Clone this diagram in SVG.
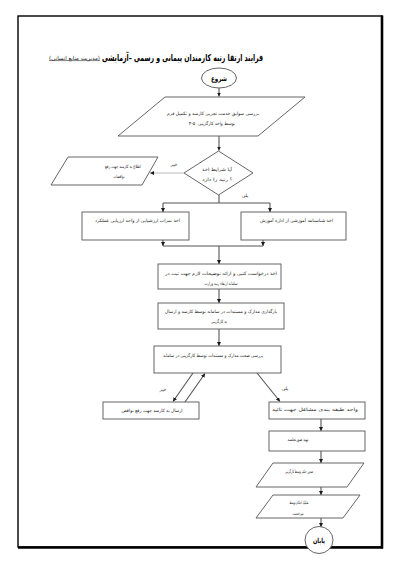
<svg xmlns="http://www.w3.org/2000/svg" width="400" height="565" viewBox="0 0 400 565">
<defs>
<marker id="ah" viewBox="0 0 10 10" refX="10" refY="5" markerWidth="4" markerHeight="4" orient="auto" markerUnits="userSpaceOnUse"><path d="M0,0 L10,5 L0,10 z" fill="#1a1a1a"/></marker>
</defs>
<style>
.t{font-family:"DejaVu Sans",sans-serif;font-size:4.6px;fill:#222;text-anchor:middle}
.b{font-weight:bold;fill:#000}
.s{fill:#fff;stroke:#555;stroke-width:0.9}
.c{fill:none;stroke:#555;stroke-width:1.1;marker-end:url(#ah)}
.l{fill:none;stroke:#555;stroke-width:1.1}
</style>
<rect width="400" height="565" fill="#fff"/>
<g id="border">
<rect x="18" y="16" width="364" height="531" fill="none" stroke="#000" stroke-width="1.4"/>
<line x1="382" y1="15.5" x2="382" y2="548.5" stroke="#000" stroke-width="2.6"/>
<line x1="18" y1="547.5" x2="383" y2="547.5" stroke="#000" stroke-width="2.6"/>
</g>
<g id="title">
<text class="t b" x="182.5" y="60.5" textLength="161" lengthAdjust="spacingAndGlyphs" style="font-size:9.5px">فرایند ارتقا رتبه کارمندان پیمانی و رسمی –آزمایشی</text>
<text class="t" x="74.5" y="59.5" textLength="51" lengthAdjust="spacingAndGlyphs" style="font-size:5.5px;text-decoration:underline">(مدیریت منابع انسانی)</text>
</g>
<g id="connectors">
<path class="c" d="M219,88 V96.5"/>
<path class="c" d="M219,136 V150.5"/>
<path class="c" d="M184,173 H150" style="stroke:#bbb"/>
<path class="l" d="M219,195 V203 M163,203 H270"/>
<path class="c" d="M163,203 V212"/>
<path class="c" d="M270,203 V212"/>
<path class="c" d="M163,240 V246"/>
<path class="c" d="M263,240 V246"/>
<path class="l" d="M163,246 H263"/>
<path class="c" d="M219,246 V264"/>
<path class="c" d="M219,289 V303"/>
<path class="c" d="M219,329 V346"/>
<path class="c" d="M193,373 L173,401.5"/>
<path class="c" d="M185,402 L205,373.5"/>
<path class="c" d="M257,373 L280,401.5"/>
<path class="c" d="M321,419 V431"/>
<path class="c" d="M321,451 V463"/>
<path class="c" d="M321,487 V495"/>
<path class="c" d="M321,518 V527"/>
<text class="t" x="174" y="166">خیر</text>
<text class="t" x="245" y="196.5">بلی</text>
<text class="t" x="163" y="390.5">خیر</text>
<text class="t" x="285" y="390">بلی</text>
</g>
<g id="start">
<ellipse class="s" cx="219" cy="78" rx="17.5" ry="10"/>
<text class="t b" x="219" y="80.5" style="font-size:7px" textLength="16" lengthAdjust="spacingAndGlyphs">شروع</text>
</g>
<g id="review-records">
<polygon class="s" points="165,97 305,97 258,136 118,136"/>
<text class="t" x="213" y="114.7" textLength="92" lengthAdjust="spacingAndGlyphs">بررسی سوابق خدمت تجربی کارمند و تکمیل فرم</text>
<text class="t" x="192" y="124.7">۴-۵</text>
<text class="t" x="216.5" y="124.7" textLength="37" lengthAdjust="spacingAndGlyphs">توسط واحد کارگزینی</text>
</g>
<g id="decision">
<polygon class="s" points="218.5,151 253,173 218.5,195 184,173"/>
<text class="t" x="217" y="170.7" textLength="30" lengthAdjust="spacingAndGlyphs">آیا شرایط اخذ</text>
<text class="t" x="215" y="180.7" textLength="26" lengthAdjust="spacingAndGlyphs">رتبه را دارد</text>
<text class="t" x="231" y="180.7">؟</text>
</g>
<g id="notify">
<polygon class="s" points="68,157 158,157 142,185 51,185"/>
<text class="t" x="123" y="168.2" textLength="36" lengthAdjust="spacingAndGlyphs">اطلاع به کارمند جهت رفع</text>
<text class="t" x="119" y="177.7" textLength="11" lengthAdjust="spacingAndGlyphs">نواقصات</text>
</g>
<g id="scores">
<rect class="s" x="82" y="212" width="107" height="28"/>
<text class="t" x="137.5" y="221.7" textLength="85" lengthAdjust="spacingAndGlyphs">اخذ نمرات ارزشیابی از واحد ارزیابی عملکرد</text>
</g>
<g id="training">
<rect class="s" x="241" y="212" width="105" height="28"/>
<text class="t" x="296.5" y="221.7" textLength="73" lengthAdjust="spacingAndGlyphs">اخذ شناسنامه آموزشی از اداره آموزش</text>
</g>
<g id="request">
<rect class="s" x="158" y="264" width="123" height="25"/>
<text class="t" x="221" y="274.7" textLength="112" lengthAdjust="spacingAndGlyphs">اخذ درخواست کتبی و ارائه توضیحات لازم جهت ثبت در</text>
<text class="t" x="221" y="284.7" textLength="33" lengthAdjust="spacingAndGlyphs">سامانه ارتقاء رتبه وزارت</text>
</g>
<g id="upload">
<rect class="s" x="158" y="303" width="126" height="26"/>
<text class="t" x="221" y="312.7" textLength="112" lengthAdjust="spacingAndGlyphs">بارگذاری مدارک و مستندات در سامانه توسط کارمند و ارسال</text>
<text class="t" x="219" y="322.7" textLength="16" lengthAdjust="spacingAndGlyphs">به کارگزینی</text>
</g>
<g id="verify">
<rect class="s" x="154" y="346" width="127" height="27"/>
<text class="t" x="213" y="356.7" textLength="100" lengthAdjust="spacingAndGlyphs">بررسی صحت مدارک و مستندات توسط کارگزینی در سامانه</text>
</g>
<g id="send-back">
<rect class="s" x="103" y="402" width="96" height="17"/>
<text class="t" x="152" y="411.7" textLength="61" lengthAdjust="spacingAndGlyphs">ارسال به کارمند جهت رفع نواقص</text>
</g>
<g id="classification">
<rect class="s" x="269" y="402" width="96" height="17"/>
<text class="t" x="315" y="411.2" textLength="86" lengthAdjust="spacingAndGlyphs">واحد طبقه بندی مشاغل جهت تائید</text>
</g>
<g id="minutes">
<rect class="s" x="269" y="431" width="96" height="20"/>
<text class="t" x="298" y="440.7" textLength="21" lengthAdjust="spacingAndGlyphs">تهیه صورتجلسه</text>
</g>
<g id="issue">
<polygon class="s" points="273,463 364,463 347,487 256,487"/>
<text class="t" x="299" y="472.7" textLength="28" lengthAdjust="spacingAndGlyphs">صدور حکم توسط کارگزینی</text>
</g>
<g id="separate">
<polygon class="s" points="273,495 360,495 343,518 256,518"/>
<text class="t" x="299" y="503.7" textLength="19" lengthAdjust="spacingAndGlyphs">تفکیک احکام توسط</text>
<text class="t" x="298" y="514.7" textLength="11" lengthAdjust="spacingAndGlyphs">میزخدمت</text>
</g>
<g id="end">
<ellipse class="s" cx="319" cy="540" rx="14" ry="13.5"/>
<text class="t b" x="319" y="542.5" style="font-size:7px" textLength="12" lengthAdjust="spacingAndGlyphs">پایان</text>
</g>
</svg>
